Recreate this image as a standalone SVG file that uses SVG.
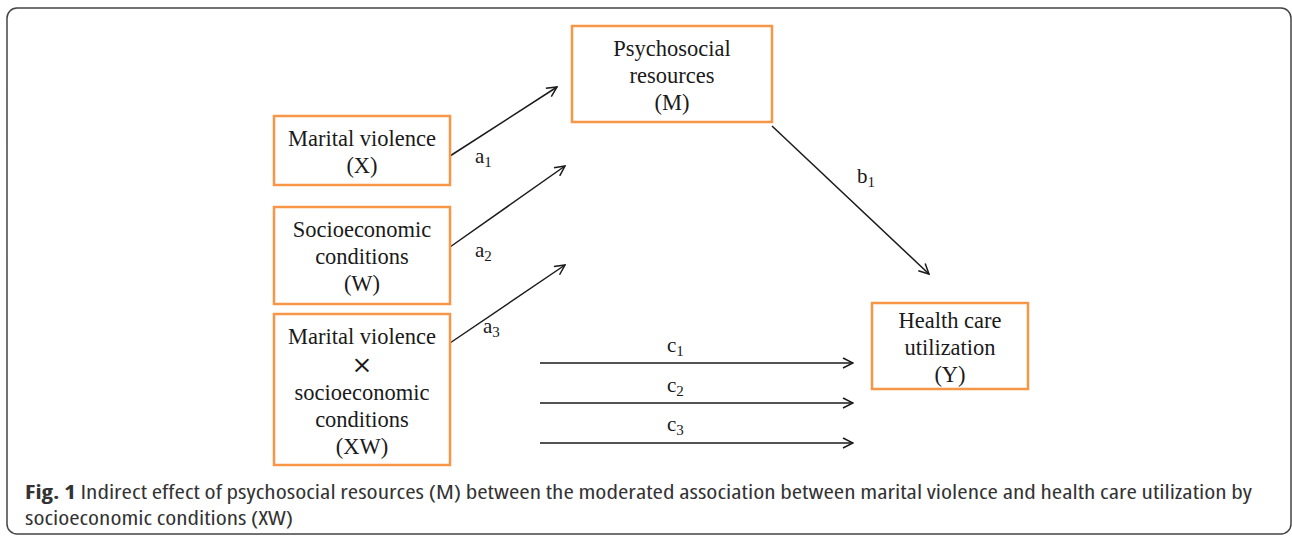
<svg xmlns="http://www.w3.org/2000/svg" width="1292" height="540" viewBox="0 0 1292 540">
<defs>
<style>
.box{fill:#fff;stroke:#F79646;stroke-width:2.5}
.t{font-family:"Liberation Serif","Times New Roman",serif;font-size:22.5px;fill:#1a1a1a;text-anchor:middle}
.times{font-family:"DejaVu Serif",serif;font-size:25px;font-weight:200}
.lbl{font-family:"Liberation Serif","Times New Roman",serif;font-size:21px;fill:#1a1a1a}
.sub{font-size:15px}
.edge{stroke:#1a1a1a;stroke-width:1.5;fill:none;marker-end:url(#arr)}
.cap{font-family:"Open Sans","Noto Sans",sans-serif;font-size:19.5px;font-stretch:semi-condensed;fill:#333}
</style>
<marker id="arr" markerUnits="userSpaceOnUse" viewBox="0 0 12 12" refX="11" refY="6" markerWidth="12" markerHeight="12" orient="auto">
<path d="M1,1 L11,6 L1,11" fill="none" stroke="#1a1a1a" stroke-width="1.5"/>
</marker>
</defs>
<rect x="7" y="8" width="1284" height="526" rx="10" ry="10" fill="#fff" stroke="#444" stroke-width="1.5"/>

<g id="connectors">
<line class="edge" x1="450" y1="156" x2="557" y2="87"/>
<line class="edge" x1="450" y1="247" x2="565" y2="166"/>
<line class="edge" x1="450" y1="343" x2="565" y2="265"/>
<line class="edge" x1="772" y1="126" x2="929" y2="274"/>
<line class="edge" x1="540" y1="363" x2="853" y2="363"/>
<line class="edge" x1="540" y1="403" x2="853" y2="403"/>
<line class="edge" x1="540" y1="443" x2="853" y2="443"/>
<text class="lbl" x="475" y="163">a<tspan class="sub" dy="4">1</tspan></text>
<text class="lbl" x="475" y="257">a<tspan class="sub" dy="4">2</tspan></text>
<text class="lbl" x="483" y="333">a<tspan class="sub" dy="4">3</tspan></text>
<text class="lbl" x="857" y="183">b<tspan class="sub" dy="4">1</tspan></text>
<text class="lbl" x="667" y="352">c<tspan class="sub" dy="4">1</tspan></text>
<text class="lbl" x="667" y="392">c<tspan class="sub" dy="4">2</tspan></text>
<text class="lbl" x="667" y="431">c<tspan class="sub" dy="4">3</tspan></text>
</g>

<g id="nodeX">
<rect class="box" x="274" y="116" width="176" height="69"/>
<text class="t" x="362" y="146">Marital violence</text>
<text class="t" x="362" y="173">(X)</text>
</g>

<g id="nodeW">
<rect class="box" x="274" y="207" width="176" height="97"/>
<text class="t" x="362" y="237">Socioeconomic</text>
<text class="t" x="362" y="264">conditions</text>
<text class="t" x="362" y="291">(W)</text>
</g>

<g id="nodeXW">
<rect class="box" x="274" y="314" width="176" height="151"/>
<text class="t" x="362" y="344">Marital violence</text>
<text class="t times" x="362" y="373">×</text>
<text class="t" x="362" y="400">socioeconomic</text>
<text class="t" x="362" y="427">conditions</text>
<text class="t" x="362" y="454">(XW)</text>
</g>

<g id="nodeM">
<rect class="box" x="572" y="26" width="200" height="96"/>
<text class="t" x="672" y="56">Psychosocial</text>
<text class="t" x="672" y="83">resources</text>
<text class="t" x="672" y="110">(M)</text>
</g>

<g id="nodeY">
<rect class="box" x="872" y="303" width="156" height="86"/>
<text class="t" x="950" y="328">Health care</text>
<text class="t" x="950" y="355">utilization</text>
<text class="t" x="950" y="382">(Y)</text>
</g>

<g id="caption">
<text class="cap" x="25" y="499" textLength="1227" lengthAdjust="spacingAndGlyphs"><tspan font-weight="bold">Fig. 1</tspan> Indirect effect of psychosocial resources (M) between the moderated association between marital violence and health care utilization by</text>
<text class="cap" x="25" y="525" textLength="268" lengthAdjust="spacingAndGlyphs">socioeconomic conditions (XW)</text>
</g>
</svg>
